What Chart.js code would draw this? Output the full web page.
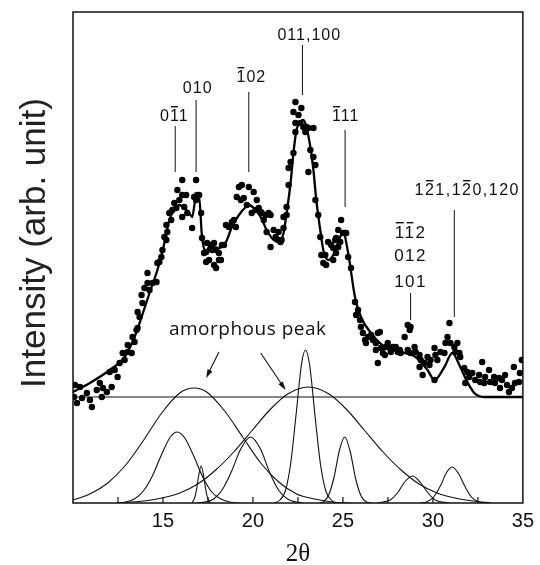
<!DOCTYPE html>
<html lang="en">
<head>
    <meta charset="UTF-8">
    <title>XRD pattern with fitted peaks</title>
    <style>
        html, body { margin: 0; padding: 0; background: #fff; }
        canvas { display: block; }
    </style>
</head>
<body>
    <canvas id="xrdChart" width="540" height="565"></canvas>

    <script src="https://cdn.jsdelivr.net/npm/chart.js"></script>
    <script>
        // measured points (2theta, intensity arb.)
        const pointX = [10.11,10.39,10.06,10.50,10.22,10.94,11.05,10.77,11.32,11.49,11.66,11.60,11.88,12.15,12.04,12.32,12.48,12.59,12.76,12.87,13.04,13.26,13.04,13.31,13.53,13.59,13.42,13.70,13.59,13.86,13.81,13.97,14.14,14.25,14.14,14.42,14.64,14.69,14.91,14.80,14.97,15.19,15.08,15.24,15.19,15.46,15.35,15.52,15.74,15.63,15.91,15.80,16.07,16.29,16.18,16.35,16.07,16.62,16.07,16.84,16.73,16.90,16.84,17.17,17.40,17.40,
            17.01,17.12,17.28,17.45,17.67,17.73,17.84,17.95,18.11,18.22,18.28,17.56,17.84,18.11,17.95,18.39,18.50,18.66,18.83,18.94,19.05,19.22,19.38,19.77,19.10,19.33,19.49,19.66,19.93,20.04,20.21,20.15,20.32,20.43,20.49,20.71,20.87,20.60,20.98,20.76,20.98,21.15,21.26,21.42,21.53,21.42,21.70,21.59,21.70,21.87,21.87,21.98,21.98,22.09,22.25,22.36,22.36,22.25,22.36,22.53,22.69,22.64,22.80,22.91,22.97,23.08,23.36,23.08,23.19,23.36,23.47,23.47,23.63,23.74,23.80,23.91,24.07,24.02,24.18,24.35,24.46,24.57,24.62,24.74,24.85,24.90,25.12,
            24.46,24.62,24.74,25.01,25.18,25.29,25.45,25.67,25.84,25.73,25.95,26.00,26.11,26.23,26.28,26.39,26.56,26.67,26.83,26.94,27.05,26.83,26.94,27.11,27.22,27.33,27.38,27.49,27.60,27.66,27.77,27.88,27.94,28.05,28.16,28.21,28.43,28.60,28.76,28.71,28.60,28.76,28.98,29.04,29.26,29.32,29.26,29.43,29.54,29.70,29.81,29.87,30.09,30.14,30.25,30.09,30.42,30.64,30.70,30.81,30.92,30.97,31.19,31.36,31.25,31.47,31.52,31.74,31.91,32.02,31.80,32.19,32.35,32.57,32.74,32.63,32.85,32.90,33.12,33.18,33.40,33.45,33.68,33.73,33.84,34.01,34.12,34.23,34.39,34.50,34.56,34.78,34.83,34.94];
        const pointY = [118,116,106,105,100,103,96,110,113,120,115,106,111,116,131,133,126,140,150,143,151,150,158,166,173,175,161,186,191,200,208,215,220,213,230,220,221,240,246,241,253,263,266,271,278,283,290,293,295,300,303,313,308,308,296,290,286,275,323,323,306,308,303,265,251,241,
            308,290,250,260,258,253,260,253,250,243,258,243,238,243,235,258,278,276,281,283,276,316,318,316,306,303,305,298,290,311,303,293,295,291,290,288,290,283,288,271,256,273,266,263,261,271,275,263,286,288,296,318,335,341,350,371,380,391,401,388,395,380,376,371,376,375,375,331,353,346,338,303,288,266,248,240,238,248,261,258,255,263,265,273,261,283,270,
            243,250,256,270,270,246,235,201,193,188,183,176,170,163,160,166,168,163,160,170,171,153,140,155,150,148,156,160,155,151,156,155,156,151,153,150,166,178,176,173,153,150,156,151,148,143,136,128,140,146,138,143,155,148,143,123,151,150,160,166,180,160,156,160,151,150,146,135,131,126,120,130,123,128,141,121,120,126,133,121,126,120,125,115,123,128,118,111,115,136,120,121,130,143];

        // fitted profile
        const fitX = [10.00,10.94,12.04,12.87,13.42,13.81,14.25,14.69,15.08,15.35,15.63,15.91,16.18,16.46,16.62,16.84,17.01,17.17,17.40,17.56,18.11,18.50,18.83,19.22,19.60,19.77,20.04,20.43,20.76,21.15,21.42,21.70,21.87,22.09,22.25,22.42,22.64,22.80,22.97,23.19,23.36,23.52,23.74,23.91,24.18,24.46,24.74,25.01,25.29,25.67,26.00,26.56,27.33,28.43,29.04,29.70,30.09,30.64,31.08,31.52,31.91,32.30,32.85,35.00];
        const fitY = [111,120,133,146,166,186,210,233,260,283,293,298,295,290,286,306,305,266,251,256,255,261,276,288,296,298,295,286,273,263,261,270,290,320,350,373,381,383,376,356,333,303,273,253,243,248,261,271,250,206,186,170,156,150,146,133,123,136,150,136,121,110,106,106];

        // background line
        const baseX = [10, 35];
        const baseY = [106, 106];

        // deconvoluted components
        const amorph1X = [10,10.93,11.93,12.93,13.93,14.93,15.93,16.73,17.43,18.43,19.43,20.43,21.43,22.43,23.43,24.43,25.43];
        const amorph1Y = [3,9,20,38,63,90,110,115,111,92,66,40,21,9,4,1,0];
        const amorph2X = [12.43,13.93,14.93,15.93,16.93,17.93,18.93,19.93,20.93,21.93,23.08,24.23,25.23,26.23,27.23,28.23,29.23,30.23,31.23,32.23,33.23];
        const amorph2Y = [0,2,5,10,19,33,51,72,93,109,116,109,93,72,51,33,19,10,5,2,0];
        const peak011X = [12.41,12.91,13.41,13.91,14.41,14.91,15.41,15.79,16.21,16.71,17.21,17.71,18.21,18.71,19.21];
        const peak011Y = [0,1,4,12,27,48,66,71,65,47,26,11,4,1,0];
        const peak010X = [16.6,16.77,16.87,16.97,17.12,17.27,17.37,17.47,17.64];
        const peak010Y = [0,5.6,14,26,37,26,14,5.6,0];
        const peak102X = [16.9,17.32,17.82,18.32,18.82,19.32,19.86,20.42,20.92,21.42,21.92,22.42,22.8];
        const peak102Y = [0,1,4,14,32,54,66,54,31,13,4,1,0];
        const peak100X = [21.2,21.5,21.8,22.1,22.4,22.7,22.92,23.15,23.45,23.75,24.05,24.35,24.6];
        const peak100Y = [0,3,12,40,89,139,153,138,87,39,12,3,0];
        const peak111X = [23.71,23.91,24.21,24.51,24.81,25.10,25.41,25.71,26.01,26.31,26.61];
        const peak111Y = [0,1,8,26,53,66,51,24,7,1,0];
        const peak112X = [26.9,27.23,27.63,28.03,28.43,28.87,29.33,29.73,30.13,30.53,30.9];
        const peak112Y = [0,1,3,10,21,27,20,10,3,1,0];
        const peak121X = [29.3,29.64,30.04,30.44,30.74,31.08,31.44,31.74,32.14,32.54,32.9];
        const peak121Y = [0,1,6,18,30,36,29,18,6,1,0];

        const xTickLabels = [15, 20, 25, 30, 35];
        const xTickMarks = [12.5, 15, 17.5, 20, 22.5, 25, 27.5, 30, 32.5];

        const pairs = (xs, ys) => xs.map((x, i) => ({x: x, y: ys[i]}));

        const components = [
            [amorph1X, amorph1Y], [amorph2X, amorph2Y], [peak011X, peak011Y],
            [peak010X, peak010Y], [peak102X, peak102Y], [peak100X, peak100Y],
            [peak111X, peak111Y], [peak112X, peak112Y], [peak121X, peak121Y]
        ].map(c => ({
            data: pairs(c[0], c[1]),
            showLine: true,
            pointRadius: 0,
            borderColor: '#111',
            borderWidth: 1.1,
            cubicInterpolationMode: 'monotone'
        }));

        const SANS = "'Liberation Sans', Arial, sans-serif";

        // draws an index label with bars over the chosen characters
        function hkl(ctx, text, bars, cx, cy) {
            const w = ctx.measureText(text).width;
            const x0 = cx - w / 2;
            ctx.fillText(text, x0, cy);
            bars.forEach(i => {
                const a = ctx.measureText(text.slice(0, i)).width;
                const b = ctx.measureText(text.slice(0, i + 1)).width;
                ctx.fillRect(x0 + a + 1, cy - 11, b - a - 3, 1.4);
            });
        }

        function arrow(ctx, x1, y1, x2, y2) {
            const ang = Math.atan2(y2 - y1, x2 - x1);
            ctx.beginPath();
            ctx.moveTo(x1, y1);
            ctx.lineTo(x2 - 6 * Math.cos(ang), y2 - 6 * Math.sin(ang));
            ctx.stroke();
            ctx.beginPath();
            ctx.moveTo(x2, y2);
            ctx.lineTo(x2 - 9 * Math.cos(ang - 0.3), y2 - 9 * Math.sin(ang - 0.3));
            ctx.lineTo(x2 - 9 * Math.cos(ang + 0.3), y2 - 9 * Math.sin(ang + 0.3));
            ctx.closePath();
            ctx.fill();
        }

        const overlay = {
            id: 'overlay',
            afterDraw(chart) {
                const {ctx, chartArea: a} = chart;
                const sx = chart.scales.x, sy = chart.scales.y;
                const px = v => sx.getPixelForValue(v);
                const py = v => sy.getPixelForValue(v);
                ctx.save();
                ctx.strokeStyle = '#111';
                ctx.fillStyle = '#111';

                // frame and inward ticks
                ctx.lineWidth = 1.5;
                ctx.strokeRect(a.left, a.top, a.right - a.left, a.bottom - a.top);
                ctx.lineWidth = 1.2;
                xTickMarks.forEach(t => {
                    ctx.beginPath();
                    ctx.moveTo(px(t), a.bottom);
                    ctx.lineTo(px(t), a.bottom - 6);
                    ctx.stroke();
                });

                // y axis title
                ctx.save();
                ctx.translate(35, 243);
                ctx.rotate(-Math.PI / 2);
                ctx.font = '35px ' + SANS;
                ctx.fillStyle = '#222';
                ctx.textAlign = 'center';
                ctx.textBaseline = 'middle';
                ctx.fillText('Intensity (arb. unit)', 0, 0);
                ctx.restore();

                // reflection labels and their leader lines
                ctx.lineWidth = 1;
                const leaders = [
                    [22.75, 458, 408], [19.77, 411, 331], [16.84, 403, 331],
                    [15.68, 377, 331], [25.12, 373, 296], [31.19, 293, 186], [28.76, 210, 183]
                ];
                leaders.forEach(l => {
                    ctx.beginPath();
                    ctx.moveTo(px(l[0]), py(l[1]));
                    ctx.lineTo(px(l[0]), py(l[2]));
                    ctx.stroke();
                });

                ctx.font = '16px ' + SANS;
                ctx.letterSpacing = '1px';
                ctx.textAlign = 'left';
                ctx.textBaseline = 'middle';
                hkl(ctx, '011,100', [], px(23.13), py(467));
                hkl(ctx, '102', [0], px(19.91), py(425));
                hkl(ctx, '010', [], px(16.93), py(414));
                hkl(ctx, '011', [1], px(15.63), py(386));
                hkl(ctx, '111', [0], px(25.15), py(386));
                ctx.letterSpacing = '1.5px';
                hkl(ctx, '121,120,120', [1, 5], px(31.91), py(312));
                ctx.font = '17px ' + SANS;
                hkl(ctx, '112', [0, 1], px(28.76), py(270));
                hkl(ctx, '012', [], px(28.76), py(247));
                hkl(ctx, '101', [], px(28.76), py(221));

                // amorphous peak note
                ctx.font = "19px 'Open Sans', sans-serif";
                ctx.letterSpacing = '0.5px';
                ctx.textAlign = 'center';
                ctx.fillText('amorphous peak', px(19.71), py(173));
                ctx.letterSpacing = '0px';
                ctx.lineWidth = 1.1;
                arrow(ctx, px(18.11), py(151), px(17.40), py(125));
                arrow(ctx, px(20.43), py(150), px(21.81), py(113));
                ctx.restore();
            }
        };

        new Chart(document.getElementById('xrdChart'), {
            type: 'scatter',
            data: {
                datasets: [
                    {
                        data: pairs(pointX, pointY),
                        pointRadius: 3.2,
                        pointBackgroundColor: '#000',
                        pointBorderWidth: 0
                    },
                    {
                        data: pairs(fitX, fitY),
                        showLine: true,
                        pointRadius: 0,
                        borderColor: '#000',
                        borderWidth: 2.3,
                        cubicInterpolationMode: 'monotone'
                    },
                    {
                        data: pairs(baseX, baseY),
                        showLine: true,
                        pointRadius: 0,
                        borderColor: '#111',
                        borderWidth: 1
                    },
                    ...components
                ]
            },
            options: {
                responsive: false,
                animation: false,
                layout: { padding: { left: 73, right: 14, top: 12, bottom: 0 } },
                plugins: { legend: { display: false }, tooltip: { enabled: false } },
                scales: {
                    x: {
                        type: 'linear',
                        min: 10,
                        max: 35,
                        grid: { display: false, drawTicks: false },
                        border: { display: false },
                        ticks: {
                            stepSize: 5,
                            padding: 6,
                            maxRotation: 0,
                            color: '#111',
                            font: { family: SANS, size: 20 },
                            callback: v => xTickLabels.includes(v) ? v : ''
                        },
                        title: {
                            display: true,
                            text: '2θ',
                            color: '#111',
                            font: { family: "'Liberation Serif', 'Times New Roman', serif", size: 25, lineHeight: 1 },
                            padding: { top: 0, bottom: -2 }
                        },
                        afterFit: s => { s.height = 62; }
                    },
                    y: {
                        display: false,
                        min: 0,
                        max: 491
                    }
                }
            },
            plugins: [overlay]
        });
    </script>
</body>
</html>
